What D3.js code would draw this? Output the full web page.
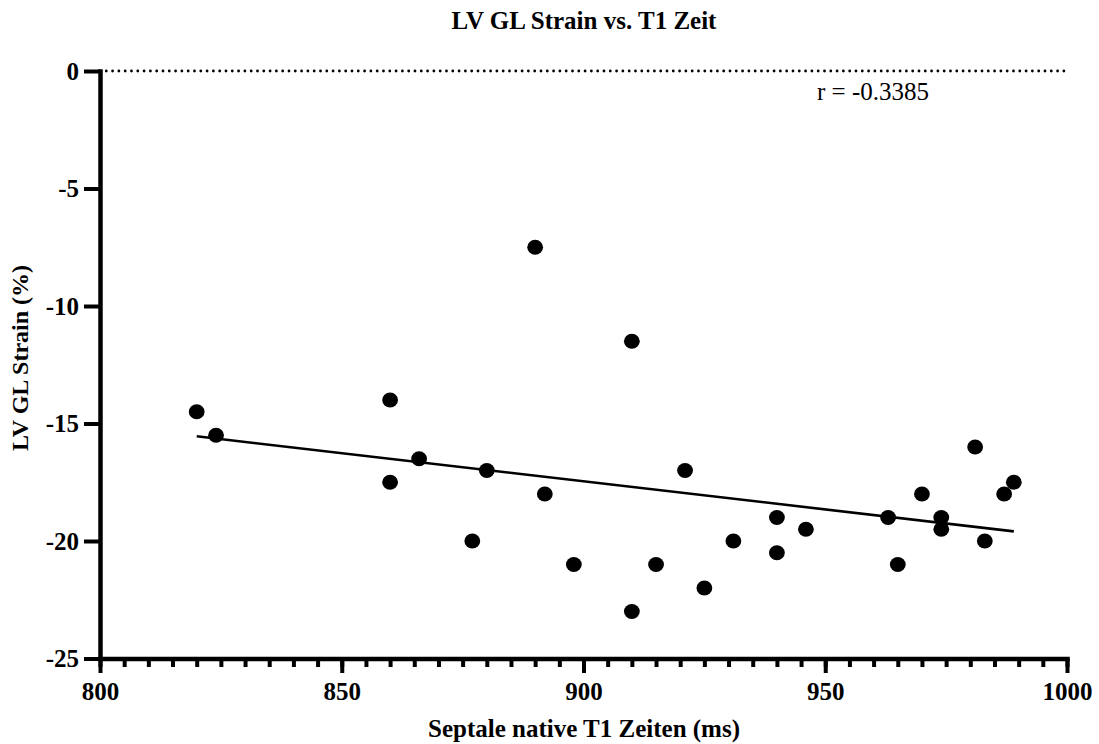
<!DOCTYPE html>
<html>
<head>
<meta charset="utf-8">
<script src="https://cdn.jsdelivr.net/npm/d3@7"></script>
<style>
  html, body { margin: 0; padding: 0; background: #fff; }
  svg { display: block; }
  svg text { font-family: "Liberation Serif", "Times New Roman", serif; fill: #000; }
</style>
</head>
<body>
<svg id="chart" width="1099" height="744"></svg>
<script>
// Septal native T1 time (ms) vs. LV global longitudinal strain (%)
const t1Times = [820, 824, 860, 860, 866, 877, 880, 890, 892, 898, 910, 910, 915, 921,
                 925, 931, 940, 940, 946, 963, 965, 970, 974, 974, 981, 983, 987, 989];
const glStrain = [-14.5, -15.5, -14, -17.5, -16.5, -20, -17, -7.5, -18, -21, -11.5, -23, -21, -17,
                  -22, -20, -19, -20.5, -19.5, -19, -21, -18, -19, -19.5, -16, -20, -18, -17.5];
const xMajorTicks = [800, 850, 900, 950, 1000];
const xMinorTicks = d3.range(800, 1001, 5);
const yTicks = [0, -5, -10, -15, -20, -25];
const titleText = "LV GL Strain vs. T1 Zeit";
const xLabel = "Septale native T1 Zeiten (ms)";
const yLabel = "LV GL Strain (%)";
const corrText = "r = -0.3385";

const svg = d3.select("#chart");
const x = d3.scaleLinear().domain([800, 1000]).range([100, 1067]);
const y = d3.scaleLinear().domain([-25, 0]).range([658.5, 71]);
const fmt = d => String(d); // plain hyphen-minus

const points = t1Times.map((t, i) => ({ x: t, y: glStrain[i] }));

// least-squares fit
const mx = d3.mean(points, d => d.x), my = d3.mean(points, d => d.y);
const sxy = d3.sum(points, d => (d.x - mx) * (d.y - my));
const sxx = d3.sum(points, d => (d.x - mx) ** 2);
const slope = sxy / sxx, intercept = my - slope * mx;
const fitX = d3.extent(t1Times);

// zero reference line (dotted)
svg.append("line")
  .attr("x1", x(801.3)).attr("x2", x(1000))
  .attr("y1", y(0)).attr("y2", y(0))
  .attr("stroke", "#000").attr("stroke-width", 2.8)
  .attr("stroke-linecap", "round").attr("stroke-dasharray", "0,6.3");

// regression line
svg.append("line")
  .attr("x1", x(fitX[0])).attr("y1", y(slope * fitX[0] + intercept))
  .attr("x2", x(fitX[1])).attr("y2", y(slope * fitX[1] + intercept))
  .attr("stroke", "#000").attr("stroke-width", 2.6);

// points
svg.append("g").selectAll("ellipse").data(points).join("ellipse")
  .attr("cx", d => x(d.x)).attr("cy", d => y(d.y))
  .attr("rx", 7.9).attr("ry", 7.4).attr("fill", "#000");

const styleLabels = g => g.selectAll("text")
  .style("font-family", "'Liberation Serif', 'Times New Roman', serif")
  .style("font-size", "25px").style("font-weight", "bold").attr("fill", "#000");

// x axis: minor ticks
svg.append("g")
  .attr("transform", `translate(0,${y(-25)})`)
  .call(d3.axisBottom(x).tickValues(xMinorTicks).tickSize(8.5).tickSizeOuter(0).tickFormat(""))
  .call(g => g.select(".domain").remove())
  .call(g => g.selectAll(".tick line").attr("stroke-width", 4));

// x axis: major ticks and labels
svg.append("g")
  .attr("transform", `translate(0,${y(-25)})`)
  .call(d3.axisBottom(x).tickValues(xMajorTicks).tickSize(14.5).tickSizeOuter(0).tickPadding(9.5).tickFormat(fmt))
  .call(g => g.select(".domain").attr("stroke-width", 4.5).attr("stroke-linecap", "square"))
  .call(g => g.selectAll(".tick line").attr("stroke-width", 4))
  .call(styleLabels);

// y axis
svg.append("g")
  .attr("transform", `translate(${x(800)},0)`)
  .call(d3.axisLeft(y).tickValues(yTicks).tickSize(16).tickSizeOuter(0).tickPadding(5).tickFormat(fmt))
  .call(g => g.select(".domain").attr("stroke-width", 4.5).attr("stroke-linecap", "square"))
  .call(g => g.selectAll(".tick line").attr("stroke-width", 4))
  .call(styleLabels);

// titles
svg.append("text")
  .attr("x", 584).attr("y", 29).attr("text-anchor", "middle")
  .style("font-size", "25px").style("font-weight", "bold").text(titleText);

svg.append("text")
  .attr("x", 584).attr("y", 737).attr("text-anchor", "middle")
  .style("font-size", "25px").style("font-weight", "bold").text(xLabel);

svg.append("text")
  .attr("transform", "translate(28,358) rotate(-90)").attr("text-anchor", "middle")
  .style("font-size", "24px").style("font-weight", "bold").text(yLabel);

// correlation coefficient
svg.append("text")
  .attr("x", 817).attr("y", 100)
  .style("font-size", "25px").text(corrText);
</script>
</body>
</html>
